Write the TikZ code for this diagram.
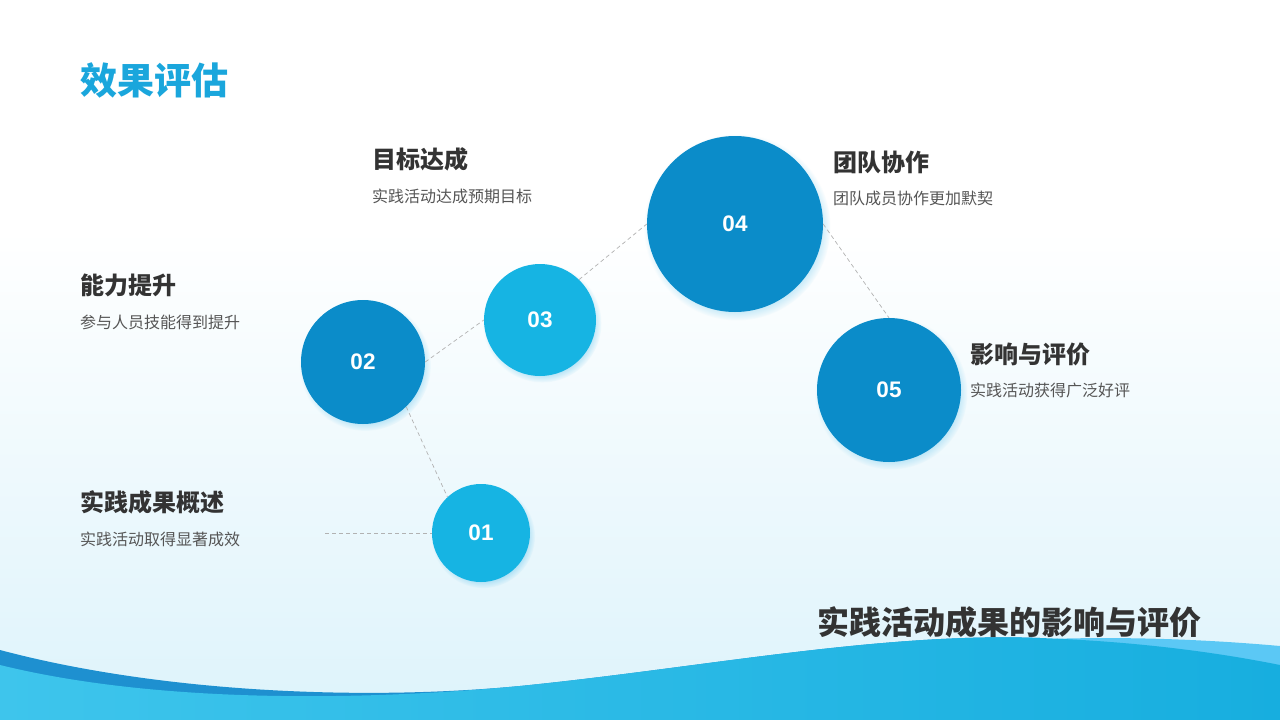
\documentclass[tikz,border=0pt]{standalone}
\usepackage{fontspec}
\setmainfont{Noto Sans CJK SC}
\newfontfamily\numfont{Liberation Sans}
\usepackage{tikz}
\usetikzlibrary{positioning,shadows}
\definecolor{titleblue}{RGB}{26,166,220}
\definecolor{deepblue}{RGB}{11,140,201}
\definecolor{skyblue}{RGB}{22,180,227}
\definecolor{glowblue}{RGB}{150,215,242}
\definecolor{headgray}{RGB}{51,51,51}
\definecolor{subgray}{RGB}{85,85,85}
\definecolor{bgcyan}{RGB}{221,243,251}
\definecolor{waveleft}{RGB}{62,197,236}
\definecolor{waveright}{RGB}{23,174,223}
\definecolor{wavedark}{RGB}{30,144,208}
\definecolor{wavelight}{RGB}{91,200,245}

\begin{document}
\begin{tikzpicture}[
    x=1pt, y=-1pt,
    dot/.style={circle, fill=skyblue, text=white, inner sep=0pt,
        font=\numfont\bfseries\fontsize{22.5}{22.5}\selectfont,
        circular drop shadow={shadow xshift=2pt, shadow yshift=-3pt, shadow scale=1.06, fill=glowblue, opacity=0.7}},
    deepdot/.style={dot, fill=deepblue},
    headtext/.style={anchor=west, inner sep=0pt, text=headgray, font=\bfseries\fontsize{24}{24}\selectfont},
    subtext/.style={anchor=west, inner sep=0pt, text=subgray, font=\fontsize{16}{16}\selectfont},
    link/.style={dashed, gray!60, line width=0.7pt, dash pattern=on 4pt off 3pt}
]
    \useasboundingbox (0,0) rectangle (1280,720);
    % background
    \fill[white] (0,0) rectangle (1280,720);
    \shade[top color=white, bottom color=bgcyan] (0,230) rectangle (1280,720);

    % waves
    \fill[wavedark] (0,650) .. controls (150,690) and (350,702) .. (520,686)
        .. controls (700,668) and (880,632) .. (1040,638) -- (1040,720) -- (0,720) -- cycle;
    \fill[wavelight] (850,660) .. controls (950,640) and (1100,630) .. (1280,646) -- (1280,720) -- (850,720) -- cycle;
    \shade[left color=waveleft, right color=waveright] (0,665) .. controls (150,702) and (350,702) .. (520,686)
        .. controls (700,668) and (880,632) .. (1040,638) .. controls (1150,642) and (1230,655) .. (1280,665)
        -- (1280,720) -- (0,720) -- cycle;

    % title
    \node[anchor=west, inner sep=0pt, text=titleblue, font=\bfseries\fontsize{37}{37}\selectfont] (title) at (80,80) {效果评估};
    \node[anchor=west, inner sep=0pt, text=headgray, font=\bfseries\fontsize{32}{32}\selectfont] (footer) at (817,622) {实践活动成果的影响与评价};

    % circles
    \node[dot, minimum size=98pt] (c1) at (481,533) {01};
    \node[deepdot, minimum size=124pt] (c2) at (363,362) {02};
    \node[dot, minimum size=112pt] (c3) at (540,320) {03};
    \node[deepdot, minimum size=176pt] (c4) at (735,224) {04};
    \node[deepdot, minimum size=144pt] (c5) at (889,390) {05};

    % labels
    \node[headtext] (h1) at (80,502) {实践成果概述};
    \node[subtext] (s1) at (80,539) {实践活动取得显著成效};
    \node[headtext] (h2) at (80,285) {能力提升};
    \node[subtext] (s2) at (80,322) {参与人员技能得到提升};
    \node[headtext] (h3) at (372,159) {目标达成};
    \node[subtext] (s3) at (372,196) {实践活动达成预期目标};
    \node[headtext] (h4) at (833,162) {团队协作};
    \node[subtext] (s4) at (833,198) {团队成员协作更加默契};
    \node[headtext] (h5) at (970,354) {影响与评价};
    \node[subtext] (s5) at (970,390) {实践活动获得广泛好评};

    % connectors
    \coordinate (lead) at (325,533);
    \draw[link] (lead) -- (c1.west);
    \draw[link] (c2.-46) -- (c1.133);
    \draw[link] (c2.east) -- (c3.west);
    \draw[link] (c3.46) -- (c4.west);
    \draw[link] (c4.east) -- (c5.north);
\end{tikzpicture}
\end{document}
